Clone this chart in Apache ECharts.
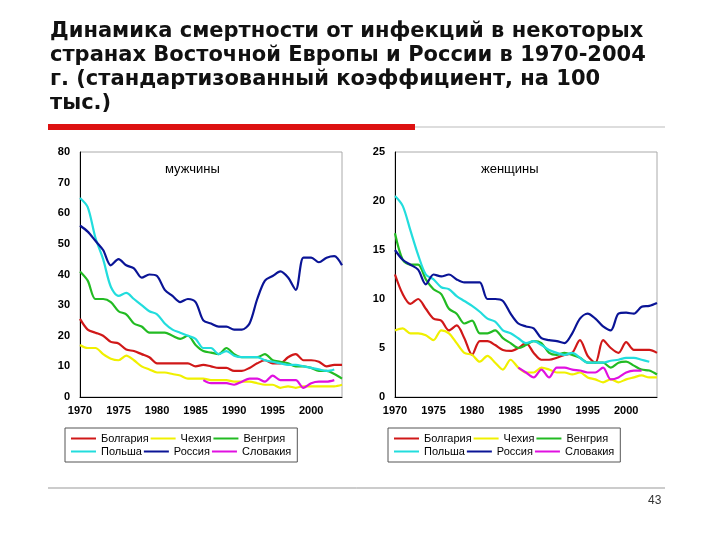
<!DOCTYPE html>
<html><head><meta charset="utf-8">
<script src="https://cdn.jsdelivr.net/npm/echarts@6/dist/echarts.min.js"></script>
<style>html,body{margin:0;background:#fff}#c{width:720px;height:540px}</style>
</head><body><div id="c"></div>
<script>
const years = [];
for (let y = 1970; y <= 2004; y++) years.push(String(y));
const names = ['Болгария', 'Чехия', 'Венгрия', 'Польша', 'Россия', 'Словакия'];
const colors = ['#d01818', '#f0f000', '#22bb22', '#22dddd', '#0a1496', '#e010e0'];

const menBulgaria = [25.5,22,21,20,18,17.5,15.5,15,14,13,11,11,11,11,11,10,10.5,10,9.5,9.5,8.5,8.5,9.5,11,12,11,11,13,14,12,12,11.5,10,10.5,10.5];
const menCzech = [17,16,16,14,12.5,12,13.5,12,10,9,8,8,7.5,7,6,6,6,5.5,5.5,5.5,5,5,5,4.5,4,4,3,3.5,3,3.5,3.5,3.5,3.5,3.5,4];
const menHungary = [41,38,32,32,31,28,27,24,23,21,21,21,20,19,20,17,15,14.5,14,16,14,13,13,13,14,12,11.5,11,10,10,9.5,8.5,8.5,7.5,6];
const menPoland = [65,62,52,45,36,33,34,32,30,28,27,24,22,21,20,19,16,16,14,15,13.5,13,13,13,12,11.5,11,10.5,10.5,10,9.5,9,8.5,9,null];
const menRussia = [56,54,51,48,43,45,43,42,39,40,39.5,35,33,31,32,31,25,24,23,23,22,22,24,32,38,39.5,41,39,35,45.5,45.5,44,45.5,46,43];
const menSlovakia = [null,null,null,null,null,null,null,null,null,null,null,null,null,null,null,null,5.5,4.5,4.5,4.5,4,5,6,6,5,7,5.5,5.5,5.5,3,4.5,5,5,5.5,null];

const womenBulgaria = [12.5,10.5,9.5,10,9,8,7.8,6.8,7.3,6,4.3,5.7,5.7,5.3,4.8,4.7,5,5.5,4.5,3.8,3.8,4,4.3,4.5,5.8,4.2,3.5,5.8,5,4.5,5.6,4.8,4.8,4.8,4.5];
const womenCzech = [6.8,7,6.5,6.5,6.3,5.8,6.8,6.5,5.5,4.5,4.3,3.6,4.2,3.5,2.8,3.8,3,2.5,2.5,3,2.8,2.5,2.5,2.3,2.5,2,1.8,1.5,1.8,1.5,1.8,2,2.2,2,2];
const womenHungary = [16.7,14,13.5,13.5,12,11,10.5,9,8.5,7.5,7.8,6.5,6.5,6.8,6,5.5,5,5.3,5.7,5.5,4.5,4.3,4.5,4.3,4,3.5,3.5,3.5,3,3.5,3.6,3.2,2.8,2.7,2.3];
const womenPoland = [20.5,19.5,17,14.5,12.5,12,11.2,11,10.3,9.8,9.3,8.7,8,7.7,6.8,6.5,6,5.5,5.7,5.3,4.8,4.5,4.3,4.5,4,3.5,3.5,3.5,3.7,3.8,4,4,3.8,3.6,null];
const womenRussia = [15,14,13.5,13,11.5,12.5,12.3,12.5,12,11.7,11.7,11.7,10,10,9.8,8.5,7.5,7.2,7,6,5.8,5.7,5.5,6.5,8,8.5,8,7.2,6.8,8.5,8.6,8.5,9.2,9.3,9.6];
const womenSlovakia = [null,null,null,null,null,null,null,null,null,null,null,null,null,null,null,null,3,2.5,2,2.8,2,3,3,2.8,2.7,2.5,2.5,3,1.8,2,2.5,2.7,2.7,null,null];

const menData = [menBulgaria, menCzech, menHungary, menPoland, menRussia, menSlovakia];
const womenData = [womenBulgaria, womenCzech, womenHungary, womenPoland, womenRussia, womenSlovakia];

const font = 'Arial, "Liberation Sans", sans-serif';
const chart = echarts.init(document.getElementById('c'));

const xAxis = i => ({
  type: 'category', gridIndex: i, data: years, boundaryGap: false,
  axisLine: { lineStyle: { color: '#000' } },
  axisTick: { show: false },
  axisLabel: { interval: 4, color: '#000', fontWeight: 'bold', fontSize: 11, fontFamily: font, margin: 8 }
});
const yAxis = (i, max, step) => ({
  type: 'value', gridIndex: i, min: 0, max: max, interval: step,
  axisLine: { show: true, lineStyle: { color: '#000' } },
  axisTick: { show: false },
  splitLine: { show: false },
  axisLabel: { color: '#000', fontWeight: 'bold', fontSize: 11, fontFamily: font, margin: 10 }
});
const series = [];
[menData, womenData].forEach((set, g) => {
  set.forEach((d, k) => series.push({
    name: names[k], type: 'line', xAxisIndex: g, yAxisIndex: g, data: d,
    showSymbol: false, smooth: 0.3, color: colors[k], lineStyle: { width: 2.2 }, z: k === 4 ? 5 : 3
  }));
});
const legend = left => ({
  data: names, left: left, top: 428, width: 270, itemWidth: 25, itemHeight: 2, itemGap: 2,
  icon: 'rect', borderColor: '#555', borderWidth: 1, padding: [5, 6],
  textStyle: { fontSize: 11, fontFamily: font, color: '#000', width: 58 }
});

chart.setOption({
  animation: false,
  grid: [
    { left: 80, right: 378, top: 152, bottom: 143, show: true, borderColor: '#aaa', borderWidth: 1 },
    { left: 395, right: 63, top: 152, bottom: 143, show: true, borderColor: '#aaa', borderWidth: 1 }
  ],
  xAxis: [xAxis(0), xAxis(1)],
  yAxis: [yAxis(0, 80, 10), yAxis(1, 25, 5)],
  legend: [legend(65), legend(388)],
  series: series,
  graphic: [
    { type: 'text', left: 50, top: 20, style: { text: 'Динамика смертности от инфекций в некоторых\nстранах Восточной Европы и России в 1970-2004\nг. (стандартизованный коэффициент, на 100\nтыс.)', fontSize: 21, fontWeight: 'bold', fontFamily: '"DejaVu Sans", sans-serif', fill: '#111', lineHeight: 24 } },
    { type: 'rect', shape: { x: 48, y: 124, width: 367, height: 6 }, style: { fill: '#dd1111' } },
    { type: 'line', shape: { x1: 415, y1: 127, x2: 665, y2: 127 }, style: { stroke: '#bbb', lineWidth: 1 } },
    { type: 'text', left: 165, top: 163, style: { text: 'мужчины', fontSize: 13, fontFamily: font, fill: '#000' } },
    { type: 'text', left: 481, top: 163, style: { text: 'женщины', fontSize: 13, fontFamily: font, fill: '#000' } },
    { type: 'line', shape: { x1: 48, y1: 488, x2: 665, y2: 488 }, style: { stroke: '#999', lineWidth: 1 } },
    { type: 'text', left: 648, top: 495, style: { text: '43', fontSize: 12, fontFamily: font, fill: '#333' } }
  ]
});
</script></body></html>
